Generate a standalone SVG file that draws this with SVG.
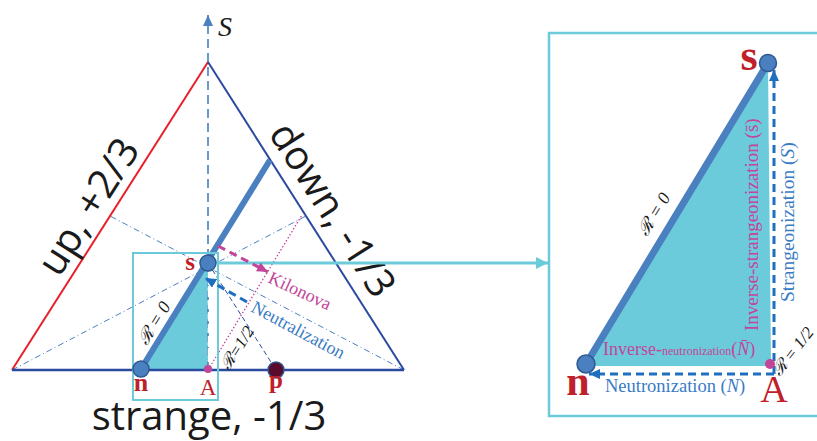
<svg xmlns="http://www.w3.org/2000/svg" width="817" height="441" viewBox="0 0 817 441">
<style>
.big{font-family:"Open Sans","Liberation Sans",sans-serif;font-size:40px;fill:#1a1a1a}
.red{font-family:"Liberation Serif","DejaVu Serif",serif;font-weight:bold;fill:#c0202a}
.redA{font-family:"Liberation Serif","DejaVu Serif",serif;fill:#c0202a}
.cal{font-family:"Liberation Serif","DejaVu Serif",serif;font-style:italic;fill:#1a1a1a}
.pinkT{font-family:"Liberation Serif","DejaVu Serif",serif;fill:#c2459a}
.blueT{font-family:"Liberation Serif","DejaVu Serif",serif;fill:#3a7cc4}
.node{fill:#4a7fc0;stroke:#2e5a90;stroke-width:1.5}
.thick{stroke:#4a7fc0;stroke-width:6;stroke-linecap:butt}
.med{stroke:#4a7fc0;stroke-width:1;stroke-dasharray:6 3 1 3;fill:none}
.pdash{stroke:#c2459a;stroke-width:3;stroke-dasharray:8 5;fill:none}
.bdash{stroke:#1f6fc0;stroke-width:3;stroke-dasharray:8 5;fill:none}
.teal{fill:#6ccbdb}
</style>
<defs>
<marker id="ap" markerUnits="userSpaceOnUse" markerWidth="12" markerHeight="10" refX="11" refY="5" orient="auto"><path d="M0,0 L11,5 L0,10 z" fill="#c2459a"/></marker>
<marker id="ab" markerUnits="userSpaceOnUse" markerWidth="12" markerHeight="10" refX="11" refY="5" orient="auto"><path d="M0,0 L11,5 L0,10 z" fill="#1f6fc0"/></marker>
<marker id="aax" markerUnits="userSpaceOnUse" markerWidth="12" markerHeight="12" refX="11" refY="5" orient="auto"><path d="M0,0 L11,5 L0,10 z" fill="#4a7fc0"/></marker>
<marker id="ac" markerUnits="userSpaceOnUse" markerWidth="14" markerHeight="14" refX="12" refY="6" orient="auto"><path d="M0,0 L12,6 L0,12 z" fill="#6ccbdb"/></marker>
</defs>
<rect width="817" height="441" fill="#fff"/>

<g id="triangle">
<polygon class="teal" points="141,369 208,263 208,369"/>
<line x1="12" y1="370" x2="306" y2="216" class="med"/>
<line x1="404" y1="370" x2="110" y2="216" class="med"/>
<line x1="208" y1="370" x2="302" y2="215" stroke="#c2459a" stroke-width="1.3" stroke-dasharray="1.5 2"/>
<line x1="208" y1="263" x2="276" y2="370" stroke="#2a4aa0" stroke-width="1" stroke-dasharray="5 3"/>
<line x1="208" y1="370" x2="208" y2="15" stroke="#4a7fc0" stroke-width="1.6" stroke-dasharray="9 5" marker-end="url(#aax)"/>
<line x1="209" y1="276" x2="209" y2="362" stroke="#fff" stroke-width="2.5" stroke-dasharray="9 3"/>
<line x1="12" y1="370" x2="208" y2="62" stroke="#e8202a" stroke-width="2"/>
<line x1="208" y1="62" x2="404" y2="370" stroke="#2a4aa0" stroke-width="2"/>
<line x1="12" y1="370" x2="404" y2="370" stroke="#2a4aa0" stroke-width="2.5"/>
<line x1="141" y1="369" x2="270" y2="160" class="thick"/>
<text x="218" y="36" font-family="Liberation Serif,DejaVu Serif,serif" font-style="italic" font-size="28" fill="#1a1a1a">S</text>
<text class="big" transform="translate(100,214) rotate(-57.5)" text-anchor="middle">up, +2/3</text>
<text class="big" transform="translate(321,217) rotate(57.5)" text-anchor="middle">down, -1/3</text>
<text class="big" x="209" y="430" text-anchor="middle">strange, -1/3</text>
<text class="cal" font-size="18" transform="translate(159,326) rotate(-58.3)" text-anchor="middle">ℛ = 0</text>
<text class="cal" font-size="17" transform="translate(242,351) rotate(-58)" text-anchor="middle">ℛ=1/2</text>
<text class="pinkT" font-size="18" transform="translate(267,282) rotate(25)">Kilonova</text>
<text class="blueT" font-size="18" transform="translate(250,311) rotate(28)">Neutralization</text>
</g>

<g id="zoom-box">
<rect x="133" y="253" width="85" height="147" fill="none" stroke="#6ccbdb" stroke-width="2"/>
</g>

<g id="connectors">
<line x1="218" y1="263" x2="548" y2="263" stroke="#6ccbdb" stroke-width="3" marker-end="url(#ac)"/>
<line x1="218" y1="246" x2="268" y2="272" class="pdash" marker-end="url(#ap)"/>
<line x1="247" y1="302" x2="205" y2="278" class="bdash" marker-end="url(#ab)"/>
<line x1="764" y1="72" x2="765" y2="353" class="pdash" marker-end="url(#ap)"/>
<line x1="594" y1="361" x2="767" y2="361" class="pdash" marker-end="url(#ap)"/>
<line x1="774" y1="374" x2="774" y2="70" class="bdash" marker-end="url(#ab)"/>
<line x1="774" y1="374" x2="589" y2="374" class="bdash" marker-end="url(#ab)"/>
</g>

<g id="node-s-left"><circle class="node" cx="208" cy="263" r="8"/><text class="red" x="190" y="270" font-size="25" text-anchor="middle">s</text></g>
<g id="node-n-left"><circle class="node" cx="141" cy="369" r="8"/><text class="red" x="141" y="391" font-size="26" text-anchor="middle">n</text></g>
<g id="node-A-left"><circle cx="208" cy="369" r="4" fill="#c2459a"/><text class="redA" x="208" y="395" font-size="23" text-anchor="middle">A</text></g>
<g id="node-p"><circle cx="276" cy="370" r="8" fill="#5a0a2a" stroke="#2e5a90" stroke-width="1.5"/><text class="red" x="276" y="388" font-size="25" text-anchor="middle">p</text></g>

<g id="panel">
<rect x="549" y="33" width="272" height="383" fill="none" stroke="#6ccbdb" stroke-width="2.5"/>
<polygon class="teal" points="586,366 768,63 771,366"/>
<line x1="586" y1="364" x2="768" y2="63" stroke="#4a7fc0" stroke-width="7"/>
<text class="cal" font-size="18" transform="translate(659,217) rotate(-58.7)" text-anchor="middle">ℛ = 0</text>
<text class="cal" font-size="17" transform="translate(797,355) rotate(-52)" text-anchor="middle">ℛ = 1/2</text>
<text class="pinkT" font-size="19" transform="translate(758,331) rotate(-90)">Inverse-strangeonization (s̄)</text>
<text class="blueT" font-size="19.5" transform="translate(794,302) rotate(-90)">Strangeonization (<tspan font-style="italic">S</tspan>)</text>
<text class="pinkT" x="603" y="355" font-size="18">Inverse-<tspan font-size="12">neutronization</tspan>(<tspan font-style="italic">N̄</tspan>)</text>
<text class="blueT" x="605" y="392" font-size="18.5">Neutronization (<tspan font-style="italic">N</tspan>)</text>
</g>
<g id="node-s-right"><circle class="node" cx="768" cy="63" r="8.5"/><text class="red" x="749" y="70" font-size="44" text-anchor="middle">s</text></g>
<g id="node-n-right"><circle class="node" cx="586" cy="364" r="9"/><text class="red" x="578" y="395" font-size="42" text-anchor="middle">n</text></g>
<g id="node-A-right"><circle cx="770" cy="364" r="5" fill="#c2459a"/><text class="redA" x="774" y="402" font-size="38" text-anchor="middle">A</text></g>
</svg>
